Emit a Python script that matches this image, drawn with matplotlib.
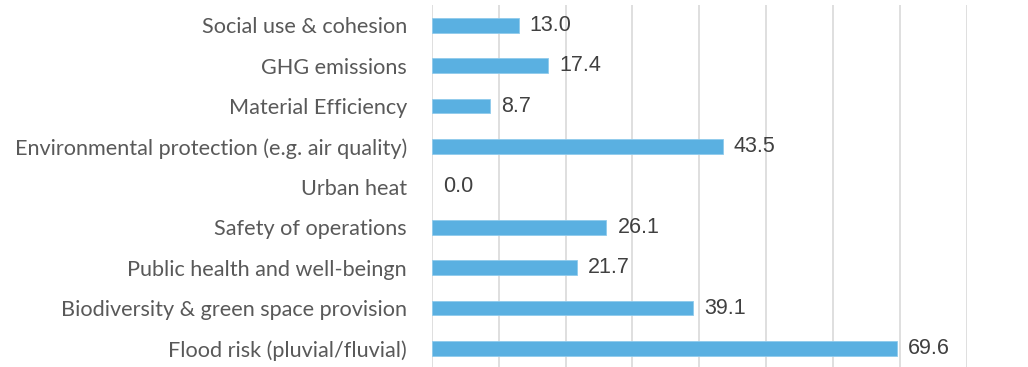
import matplotlib
matplotlib.use("Agg")
import matplotlib.pyplot as plt

categories = [
    "Flood risk (pluvial/fluvial)",
    "Biodiversity & green space provision",
    "Public health and well-beingn",
    "Safety of operations",
    "Urban heat",
    "Environmental protection (e.g. air quality)",
    "Material Efficiency",
    "GHG emissions",
    "Social use & cohesion",
]
values = [69.6, 39.1, 21.7, 26.1, 0.0, 43.5, 8.7, 17.4, 13.0]
x_ticks = [0, 10, 20, 30, 40, 50, 60, 70, 80]

bar_color = "#5AB0E1"
grid_color = "#D9D9D9"
label_color = "#595959"
value_color = "#404040"

fig = plt.figure(figsize=(10.28, 3.67), dpi=100)
ax = fig.add_axes([0.420, -0.0044, 0.5204, 0.9907])

ypos = list(range(len(categories)))
edge_widths = [0.6 if v > 0 else 0 for v in values]
ax.barh(ypos, values, height=0.37, color=bar_color,
        edgecolor="#8FCBEC", linewidth=edge_widths, zorder=3)

for y, v in zip(ypos, values):
    ax.annotate(f"{v:.1f}", xy=(v, y), xytext=(8, 0), textcoords="offset points",
                ha="left", va="center", fontsize=15.5, color=value_color,
                family="Liberation Sans")

ax.set_xlim(x_ticks[0], x_ticks[-1])
ax.set_ylim(-0.5, len(categories) - 0.5)
ax.set_xticks(x_ticks)
ax.set_xticklabels([])
ax.tick_params(axis="x", length=0)
ax.tick_params(axis="y", length=0, pad=18)
ax.set_yticks(ypos)
ax.set_yticklabels(categories, fontsize=15.6, color=label_color, family="Lato")
ax.grid(axis="x", color=grid_color, linewidth=1.2, zorder=0)
for s in ax.spines.values():
    s.set_visible(False)

fig.savefig("out.png", dpi=100, facecolor="white")
